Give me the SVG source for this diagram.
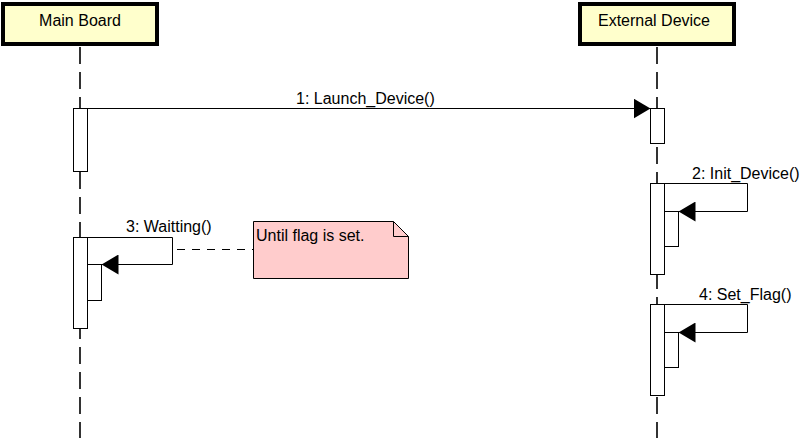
<svg xmlns="http://www.w3.org/2000/svg" width="804" height="442" viewBox="0 0 804 442">
<defs>
<marker id="arr" markerWidth="17" markerHeight="20" refX="17" refY="10" orient="auto" markerUnits="userSpaceOnUse">
<polygon points="0,0 17,10 0,20" fill="#000"/>
</marker>
<style>
text{font-family:"Liberation Sans",Arial,sans-serif;font-size:16px;fill:#000}
.head{fill:#FFFFCC;stroke:#000;stroke-width:4}
.life{stroke:#000;stroke-width:1.6;stroke-dasharray:17 8;fill:none}
.act{fill:#fff;stroke:#000;stroke-width:1}
.msg{fill:none;stroke:#000;stroke-width:1}
.note{fill:#FFCCCC;stroke:#000;stroke-width:1}
</style>
</defs>
<rect width="804" height="442" fill="#fff"/>
<g id="main-board">
<rect class="head" x="3" y="4" width="154" height="40"/>
<text x="80" y="26" text-anchor="middle">Main Board</text>
<line class="life" x1="80" y1="47" x2="80" y2="438"/>
<rect class="act" x="73.5" y="108.5" width="14" height="63"/>
<rect class="act" x="73.5" y="237.5" width="14" height="91"/>
<rect class="act" x="87.5" y="264.5" width="14" height="36"/>
</g>
<g id="external-device">
<rect class="head" x="580" y="4" width="154" height="40"/>
<text x="654" y="26" text-anchor="middle">External Device</text>
<line class="life" x1="657" y1="47" x2="657" y2="438"/>
<rect class="act" x="650.5" y="108.5" width="14" height="35"/>
<rect class="act" x="650.5" y="183.5" width="14" height="91"/>
<rect class="act" x="664.5" y="211.5" width="14" height="35"/>
<rect class="act" x="650.5" y="304.5" width="14" height="91"/>
<rect class="act" x="664.5" y="332.5" width="14" height="35"/>
</g>
<g id="note">
<path class="note" d="M253.5,221.5 H393.5 L408.5,236.5 V278.5 H253.5 Z"/>
<path d="M393.5,221.5 V236.5 H408.5" fill="none" stroke="#000" stroke-width="1"/>
<text x="256" y="241">Until flag is set.</text>
</g>
<g id="connectors">
<line class="msg" x1="87.5" y1="108.5" x2="650.5" y2="108.5" marker-end="url(#arr)"/>
<text x="296" y="104">1: Launch_Device()</text>
<polyline class="msg" points="664.5,183.5 747.5,183.5 747.5,211.5 678.5,211.5" marker-end="url(#arr)"/>
<text x="692" y="179">2: Init_Device()</text>
<polyline class="msg" points="87.5,237.5 172.5,237.5 172.5,264.5 101.5,264.5" marker-end="url(#arr)"/>
<text x="126" y="232">3: Waitting()</text>
<polyline class="msg" points="664.5,304.5 747.5,304.5 747.5,332.5 678.5,332.5" marker-end="url(#arr)"/>
<text x="699" y="300">4: Set_Flag()</text>
<line x1="177" y1="249.5" x2="253" y2="249.5" stroke="#000" stroke-width="1" stroke-dasharray="8 7"/>
</g>
</svg>
